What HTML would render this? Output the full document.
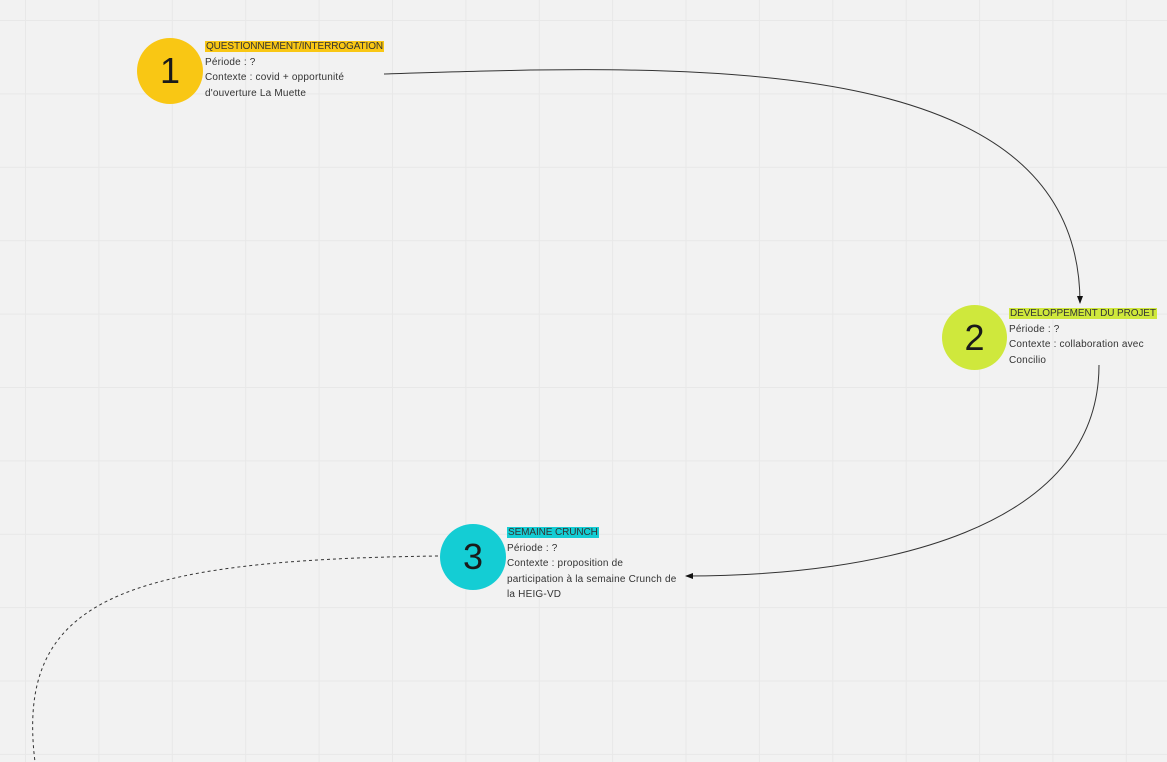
<!DOCTYPE html>
<html><head><meta charset="utf-8"><style>
html,body{margin:0;padding:0}
body{width:1167px;height:762px;overflow:hidden;background:#f2f2f2;position:relative;font-family:"Liberation Sans",sans-serif;
background-image:linear-gradient(to right,#e8e8e8 1px,transparent 1px),linear-gradient(to bottom,#e8e8e8 1px,transparent 1px);
background-size:73.4px 73.4px;background-position:25px 20px;}
.c{position:absolute;border-radius:50%;display:flex;align-items:center;justify-content:center;font-size:36px;color:#1a1a1a}
.t{position:absolute;font-size:10px;line-height:15.5px;color:#333;letter-spacing:0.2px}
.t .h{padding:0 1px;letter-spacing:-0.1px}
svg{position:absolute;left:0;top:0}
</style></head><body>
<svg width="1167" height="762">
<defs><marker id="a" markerWidth="8" markerHeight="8" refX="7" refY="4" orient="auto"><path d="M0,1 L8,4 L0,7 z" fill="#111"/></marker></defs>
<path d="M384,74 C700,64 1080,50 1080,303" fill="none" stroke="#333" stroke-width="1" marker-end="url(#a)"/>
<path d="M1099,365 C1099,530 880,576 686,576" fill="none" stroke="#333" stroke-width="1" marker-end="url(#a)"/>
<path d="M438,556 C120,560 15,600 35,762" fill="none" stroke="#333" stroke-width="1" stroke-dasharray="3,3"/>
</svg>
<div class="c" style="left:137px;top:38px;width:66px;height:66px;background:#f9c714">1</div>
<div class="t" style="left:205px;top:39px"><span class="h" style="background:#f9c714">QUESTIONNEMENT/INTERROGATION</span><br>Période : ?<br>Contexte : covid + opportunité<br>d'ouverture La Muette</div>
<div class="c" style="left:942px;top:305px;width:65px;height:65px;background:#cfe83c">2</div>
<div class="t" style="left:1009px;top:306px"><span class="h" style="background:#cfe83c">DEVELOPPEMENT DU PROJET</span><br>Période : ?<br>Contexte : collaboration avec<br>Concilio</div>
<div class="c" style="left:440px;top:524px;width:66px;height:66px;background:#14cdd4">3</div>
<div class="t" style="left:507px;top:525px"><span class="h" style="background:#14cdd4">SEMAINE CRUNCH</span><br>Période : ?<br>Contexte : proposition de<br>participation à la semaine Crunch de<br>la HEIG-VD</div>
</body></html>
